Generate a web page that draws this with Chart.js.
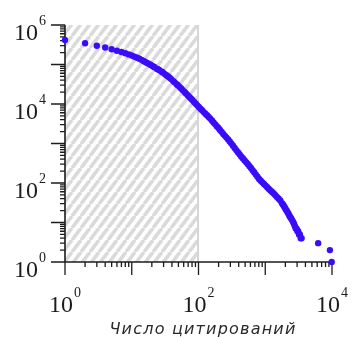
<!DOCTYPE html>
<html>
<head>
<meta charset="utf-8">
<script src="https://cdn.jsdelivr.net/npm/chart.js@4.4.0/dist/chart.umd.min.js"></script>
<style>
  html, body { margin: 0; padding: 0; background: #fff; }
  canvas { display: block; }
</style>
</head>
<body>
<canvas id="citations-chart" width="353" height="339"></canvas>
<script>
// Number of papers with at least N citations
const citations = [1, 2, 3, 4, 5, 6, 7, 8, 9, 10, 11, 12, 13, 14, 15, 16, 17, 18, 19, 20,
    21, 22, 24, 25, 26, 28, 29, 31, 33, 35, 37, 39, 42, 44, 47, 49, 52, 55, 58, 62,
    65, 69, 73, 77, 81, 86, 91, 96, 101, 107, 113, 120, 127, 134, 142, 150, 159, 168, 178, 188,
    199, 210, 222, 235, 249, 263, 278, 294, 311, 329, 348, 368, 389, 412, 436, 461, 488, 516, 546, 577,
    611, 646, 683, 723, 765, 809, 856, 905, 957, 1013, 1071, 1133, 1198, 1268, 1341, 1419, 1501, 1588, 1680, 1777,
    1828, 1880, 1933, 1988, 2043, 2100, 2162, 2225, 2287, 2350, 2419, 2490, 2564, 2640, 2712, 2786, 2867, 2950, 3033, 3118,
    3208, 3300, 3400, 3500, 6200, 9300, 9900];
const paperCounts = [417000, 346000, 299000, 269000, 242700, 223400, 206500, 192300, 180300, 168700,
    157500, 148300, 140000, 131200, 123100, 116100, 109700, 104000, 98700, 93800,
    89300, 85100, 77400, 74800, 71800, 65800, 63700, 57900, 53300, 49600,
    46100, 42700, 37800, 35300, 31700, 29900, 27200, 24700, 22500, 20100,
    18500, 16700, 15100, 13800, 12600, 11300, 10200, 9230, 8450, 7550,
    6920, 6240, 5680, 5170, 4690, 4270, 3820, 3420, 3050, 2740,
    2460, 2200, 1970, 1750, 1560, 1410, 1260, 1120, 993, 880,
    774, 681, 603, 533, 471, 422, 378, 338, 303, 271,
    240, 211, 187, 163, 144, 127, 114, 104, 94, 86,
    78, 71, 65, 59, 54, 49, 44, 40, 36, 31,
    29, 27, 25, 23, 21, 20, 18, 17, 15, 14,
    13, 12, 11, 10, 9, 8, 7, 7, 6, 6,
    5, 5, 4, 4, 3, 2, 1];

// Labelled powers of ten on each axis
const xTickExponents = [0, 2, 4];
const yTickExponents = [0, 2, 4, 6];
// Range of citation counts covered by the shaded band
const shadedRange = [1, 100];
const xAxisTitle = 'Число цитирований';

const serif = "'Liberation Serif', 'Times New Roman', serif";
const axisColor = '#1c1c1c';

// diagonal stripes for the shaded band
function makeHatch(ctx) {
    const w = 9, h = 12;
    const tile = document.createElement('canvas');
    tile.width = w;
    tile.height = h;
    const t = tile.getContext('2d');
    t.fillStyle = '#ffffff';
    t.fillRect(0, 0, w, h);
    t.strokeStyle = '#dadada';
    t.lineWidth = 3.6;
    for (const k of [-w, 0, w]) {
        t.beginPath();
        t.moveTo(k, h);
        t.lineTo(k + w, 0);
        t.stroke();
    }
    return ctx.createPattern(tile, 'repeat');
}

// "10" with a raised exponent
function drawPower(ctx, exp, left, baseY) {
    ctx.font = '24px ' + serif;
    ctx.textAlign = 'left';
    ctx.textBaseline = 'alphabetic';
    ctx.fillText('10', left, baseY);
    const w = ctx.measureText('10').width;
    ctx.font = '14px ' + serif;
    ctx.fillText(String(exp), left + w + 1, baseY - 15);
}

function powerWidth(ctx, exp) {
    ctx.font = '24px ' + serif;
    const w = ctx.measureText('10').width;
    ctx.font = '14px ' + serif;
    return w + 1 + ctx.measureText(String(exp)).width;
}

const logAxes = {
    id: 'logAxes',
    beforeDatasetsDraw(chart) {
        const { ctx, chartArea: a, scales: { x, y } } = chart;
        ctx.save();

        // shaded band
        const x0 = x.getPixelForValue(shadedRange[0]);
        const x1 = x.getPixelForValue(shadedRange[1]);
        ctx.fillStyle = makeHatch(ctx);
        ctx.fillRect(x0, a.top, x1 - x0, a.bottom - a.top);
        ctx.fillStyle = '#d6d6d6';
        ctx.fillRect(x1 - 1.5, a.top, 2, a.bottom - a.top);

        // axis lines
        ctx.strokeStyle = axisColor;
        ctx.lineWidth = 1.6;
        ctx.beginPath();
        ctx.moveTo(a.left, a.top);
        ctx.lineTo(a.left, a.bottom);
        ctx.lineTo(a.right + 2, a.bottom);
        ctx.stroke();

        // tick marks, long at each decade
        ctx.lineWidth = 1.3;
        ctx.beginPath();
        for (let e = 0; e <= 4; e++) {
            for (let m = 1; m <= 9; m++) {
                const v = m * Math.pow(10, e);
                if (v > x.max) break;
                const px = x.getPixelForValue(v);
                ctx.moveTo(px, a.bottom);
                ctx.lineTo(px, a.bottom + (m === 1 ? 13 : 5));
            }
        }
        for (let e = 0; e <= 6; e++) {
            for (let m = 1; m <= 9; m++) {
                const v = m * Math.pow(10, e);
                if (v > y.max) break;
                const py = y.getPixelForValue(v);
                ctx.moveTo(a.left, py);
                ctx.lineTo(a.left - (m === 1 ? 14 : 5), py);
            }
        }
        ctx.stroke();

        // tick labels
        ctx.fillStyle = axisColor;
        xTickExponents.forEach(e => {
            const px = x.getPixelForValue(Math.pow(10, e));
            drawPower(ctx, e, px - 16, a.bottom + 49.5);
        });
        yTickExponents.forEach(e => {
            const py = y.getPixelForValue(Math.pow(10, e));
            drawPower(ctx, e, 46 - powerWidth(ctx, e), py + 14.5);
        });

        // axis title
        ctx.fillStyle = '#2a2a2a';
        ctx.font = "italic 16px 'DejaVu Sans', sans-serif";
        ctx.letterSpacing = '1.2px';
        ctx.textAlign = 'center';
        ctx.fillText(xAxisTitle, 203, 334);
        ctx.restore();
    }
};

const ctx = document.getElementById('citations-chart').getContext('2d');
new Chart(ctx, {
    type: 'scatter',
    data: {
        datasets: [{
            data: citations.map((c, i) => ({ x: c, y: paperCounts[i] })),
            backgroundColor: 'rgb(58, 12, 248)',
            borderWidth: 0,
            pointRadius: 3.2,
            clip: false
        }]
    },
    options: {
        responsive: false,
        animation: false,
        devicePixelRatio: 1,
        layout: { padding: { left: 65, right: 21, top: 25, bottom: 77 } },
        plugins: { legend: { display: false }, tooltip: { enabled: false } },
        scales: {
            x: { type: 'logarithmic', min: 1, max: 10000, display: false },
            y: { type: 'logarithmic', min: 1, max: 1000000, display: false }
        }
    },
    plugins: [logAxes]
});
</script>
</body>
</html>
